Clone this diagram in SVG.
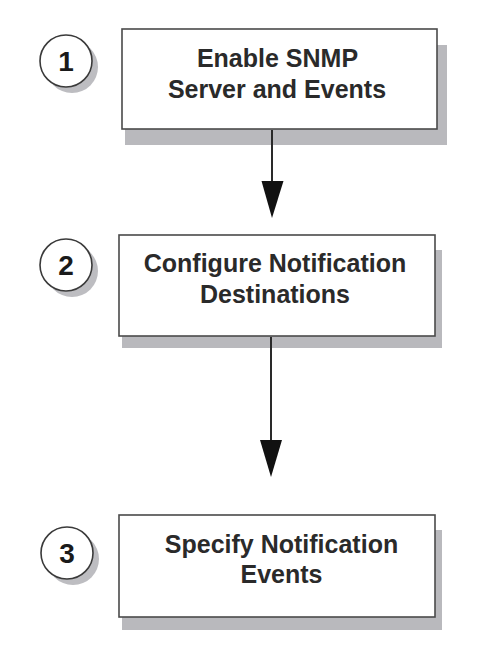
<svg xmlns="http://www.w3.org/2000/svg" width="490" height="672" viewBox="0 0 490 672">
<defs>
<style>
.box{fill:#ffffff;stroke:#4a4a4a;stroke-width:1.6}
.shadow{fill:#b9b9bd}
.circ{fill:#ffffff;stroke:#3a3a3a;stroke-width:1.6}
.cshadow{fill:#bdbdc1}
.lbl{font-family:"Liberation Sans",Arial,sans-serif;font-weight:bold;font-size:25px;fill:#2a2a2a;text-anchor:middle}
.num{font-family:"Liberation Sans",Arial,sans-serif;font-weight:bold;font-size:28px;fill:#1a1a1a;text-anchor:middle}
.conn{stroke:#2a2a2a;stroke-width:2;fill:none}
</style>
</defs>
<rect width="490" height="672" fill="#ffffff"/>
<g id="step1">
<rect class="shadow" x="125" y="45" width="322" height="100"/>
<rect class="box" x="122" y="29" width="315" height="100"/>
<circle class="cshadow" cx="72" cy="67" r="26"/>
<circle class="circ" cx="66" cy="61" r="26"/>
<text class="num" x="66" y="71">1</text>
<text class="lbl" x="277.5" y="67">Enable SNMP</text>
<text class="lbl" x="277" y="98">Server and Events</text>
</g>
<g id="step2">
<rect class="shadow" x="122" y="250" width="320" height="98"/>
<rect class="box" x="119" y="235" width="316" height="101"/>
<circle class="cshadow" cx="72" cy="271" r="26"/>
<circle class="circ" cx="66" cy="265" r="26"/>
<text class="num" x="66" y="275">2</text>
<text class="lbl" x="275" y="272">Configure Notification</text>
<text class="lbl" x="275" y="303">Destinations</text>
</g>
<g id="step3">
<rect class="shadow" x="122" y="530" width="320" height="100"/>
<rect class="box" x="119" y="515" width="316" height="102"/>
<circle class="cshadow" cx="73" cy="559" r="26"/>
<circle class="circ" cx="67" cy="553" r="26"/>
<text class="num" x="67" y="563">3</text>
<text class="lbl" x="281.5" y="553">Specify Notification</text>
<text class="lbl" x="281.5" y="583">Events</text>
</g>
<g id="connectors">
<line class="conn" x1="272" y1="130" x2="272" y2="200"/>
<path d="M261.5,181 L283.5,181 L272,218 Z" fill="#111111"/>
<line class="conn" x1="271" y1="337" x2="271" y2="460"/>
<path d="M260,440 L282,440 L271,477 Z" fill="#111111"/>
</g>
</svg>
